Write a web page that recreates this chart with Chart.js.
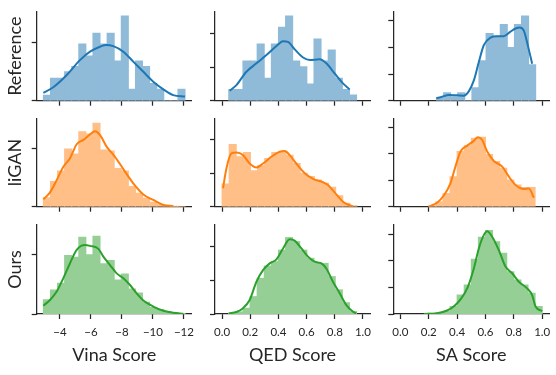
<!DOCTYPE html>
<html>
<head>
<meta charset="utf-8">
<script src="https://cdn.jsdelivr.net/npm/chart.js@4.4.1/dist/chart.umd.min.js"></script>
<style>
  html, body { margin: 0; padding: 0; background: #fff; }
  #grid { position: relative; width: 556px; height: 375px; }
  #grid canvas { position: absolute; left: 0; top: 0; }
</style>
</head>
<body>
<div id="grid"></div>
<script>
const rowNames = [`Reference`, `liGAN`, `Ours`]
const colTitles = [`Vina Score`, `QED Score`, `SA Score`]

const xTicks = [
  [-4, -6, -8, -10, -12],
  [0, 0.2, 0.4, 0.6, 0.8, 1.0],
  [0, 0.2, 0.4, 0.6, 0.8, 1.0],
]
const xRanges = [[-12.5, -2.5], [-0.05, 1.05], [-0.05, 1.05]]

// histogram first edge (row by row) and bin step per column
// (Vina bins run from the least negative score downwards)
const binStart = [
  [-2.93, 0.0475, 0.254],
  [-2.93, 0.0, 0.2],
  [-2.93, 0.0475, 0.2],
]
const binWidth = [-0.457, 0.0504, 0.05]

// density axes (labels are hidden in the figure, only the tick marks show)
const yMax = [
  [0.305, 5.29, 3.34],
  [0.303, 2.64, 3.33],
  [0.298, 2.62, 3.34],
]
const yTicks = [
  [[0, 0.2], [0, 2, 4], [0, 1, 2, 3]],
  [[0, 0.2], [0, 1, 2], [0, 1, 2, 3]],
  [[0, 0.2], [0, 1, 2], [0, 1, 2, 3]],
]

// bar heights
const refVina = [0.019, 0.077, 0.077, 0.099, 0.117, 0.194, 0.153, 0.231, 0.194, 0.231, 0.136, 0.290, 0.039, 0.136, 0.117, 0.059, 0.039, 0, 0, 0.039]
const refQed = [0.67, 0.67, 2.36, 2.36, 3.37, 1.33, 3.37, 4.36, 5.03, 2.36, 2.02, 0.99, 3.66, 2.36, 3.01, 1.33, 0.67, 0.34]
const refSa = [0.11, 0.30, 0.15, 0.30, 0, 0.49, 1.50, 2.52, 2.42, 2.86, 2.00, 2.86, 3.18, 1.35]
const liganVina = [0.031, 0.086, 0.122, 0.198, 0.181, 0.257, 0.249, 0.286, 0.194, 0.191, 0.131, 0.122, 0.069, 0.046, 0.029, 0.015, 0.008, 0.003, 0.001, 0]
const liganQed = [0.68, 1.86, 1.49, 1.62, 1.07, 1.22, 1.44, 1.62, 1.62, 1.54, 1.29, 1.00, 0.90, 0.80, 0.70, 0.58, 0.33, 0.10, 0.03]
const liganSa = [0.03, 0.19, 0.50, 1.13, 2.08, 2.30, 2.58, 2.62, 1.97, 1.70, 1.45, 1.01, 0.82, 0.72, 0.72]
const oursVina = [0.048, 0.080, 0.103, 0.196, 0.190, 0.257, 0.198, 0.260, 0.168, 0.179, 0.114, 0.134, 0.084, 0.070, 0.039, 0.022, 0.015, 0.008, 0.003, 0.001]
const oursQed = [0.02, 0.06, 0.17, 0.51, 1.05, 1.41, 1.54, 1.88, 2.25, 2.13, 1.88, 1.64, 1.51, 1.49, 1.10, 0.71, 0.33, 0.07]
const oursSa = [0.03, 0.04, 0.09, 0.28, 0.71, 1.09, 2.05, 2.88, 3.13, 2.71, 2.28, 1.59, 1.28, 1.09, 0.78, 0.28]

// kde curves as [x, density]
const refVinaKde = [[-2.93, 0.027], [-3.57, 0.046], [-4.44, 0.088], [-5.29, 0.139], [-5.94, 0.168], [-6.58, 0.185], [-6.97, 0.191], [-7.44, 0.187], [-8.09, 0.168], [-8.73, 0.134], [-9.38, 0.099], [-10.02, 0.065], [-10.67, 0.039], [-11.31, 0.019], [-12.07, 0.014]]
const refQedKde = [[0.054, 0.59], [0.102, 0.93], [0.173, 1.72], [0.244, 2.22], [0.315, 2.71], [0.386, 3.25], [0.433, 3.54], [0.468, 3.50], [0.516, 3.05], [0.575, 2.57], [0.622, 2.42], [0.693, 2.46], [0.740, 2.22], [0.799, 1.62], [0.858, 1.03], [0.906, 0.67]]
const refSaKde = [[0.254, 0.09], [0.294, 0.15], [0.341, 0.21], [0.400, 0.20], [0.447, 0.19], [0.482, 0.35], [0.518, 0.76], [0.553, 1.45], [0.588, 2.08], [0.635, 2.37], [0.682, 2.42], [0.729, 2.42], [0.776, 2.59], [0.812, 2.71], [0.842, 2.75], [0.871, 2.62], [0.901, 2.02], [0.929, 1.39]]
const liganVinaKde = [[-2.93, 0.025], [-3.36, 0.049], [-3.79, 0.091], [-4.22, 0.137], [-4.65, 0.166], [-5.08, 0.214], [-5.51, 0.229], [-5.94, 0.248], [-6.26, 0.259], [-6.58, 0.246], [-7.01, 0.206], [-7.55, 0.171], [-8.09, 0.129], [-8.73, 0.080], [-9.38, 0.042], [-10.02, 0.023], [-10.67, 0.006], [-11.31, 0.002]]
const liganQedKde = [[0.007, 0.55], [0.031, 1.14], [0.066, 1.59], [0.102, 1.62], [0.149, 1.54], [0.196, 1.29], [0.244, 1.17], [0.291, 1.29], [0.350, 1.49], [0.409, 1.64], [0.445, 1.66], [0.480, 1.54], [0.527, 1.29], [0.587, 1.00], [0.646, 0.83], [0.717, 0.73], [0.752, 0.65], [0.799, 0.43], [0.858, 0.15], [0.929, 0.0]]
const liganSaKde = [[0.200, 0.0], [0.259, 0.15], [0.306, 0.42], [0.353, 0.88], [0.388, 1.51], [0.424, 2.08], [0.471, 2.30], [0.518, 2.48], [0.546, 2.62], [0.576, 2.52], [0.612, 2.08], [0.659, 1.72], [0.718, 1.51], [0.765, 1.13], [0.812, 0.82], [0.871, 0.67], [0.906, 0.69], [0.941, 0.34]]
const oursVinaKde = [[-2.93, 0.028], [-3.36, 0.047], [-3.79, 0.075], [-4.22, 0.120], [-4.65, 0.170], [-5.08, 0.215], [-5.62, 0.231], [-5.94, 0.228], [-6.48, 0.218], [-6.80, 0.192], [-7.23, 0.164], [-7.66, 0.136], [-8.09, 0.120], [-8.52, 0.097], [-8.95, 0.069], [-9.38, 0.045], [-10.02, 0.025], [-10.67, 0.011], [-11.31, 0.004], [-11.96, 0.001]]
const oursQedKde = [[0.048, 0.02], [0.102, 0.06], [0.149, 0.17], [0.196, 0.41], [0.244, 0.95], [0.291, 1.29], [0.338, 1.49], [0.386, 1.61], [0.433, 1.93], [0.480, 2.20], [0.515, 2.16], [0.563, 1.93], [0.610, 1.69], [0.657, 1.54], [0.705, 1.49], [0.740, 1.34], [0.787, 0.95], [0.835, 0.61], [0.882, 0.26], [0.929, 0.07], [0.953, 0.02]]
const oursSaKde = [[0.165, 0.0], [0.259, 0.03], [0.329, 0.13], [0.376, 0.28], [0.424, 0.55], [0.471, 0.96], [0.518, 1.71], [0.553, 2.46], [0.588, 2.96], [0.612, 3.11], [0.647, 2.90], [0.694, 2.40], [0.741, 1.78], [0.788, 1.53], [0.835, 1.21], [0.894, 0.96], [0.929, 0.71], [0.953, 0.28], [1.000, 0.11]]

const hists = [
  [refVina, refQed, refSa],
  [liganVina, liganQed, liganSa],
  [oursVina, oursQed, oursSa],
]
const kdes = [
  [refVinaKde, refQedKde, refSaKde],
  [liganVinaKde, liganQedKde, liganSaKde],
  [oursVinaKde, oursQedKde, oursSaKde],
]

// panel frames (spine boxes) in page pixels
const W = 556, H = 375
const colL = [36.7, 215, 393.3]
const colR = [191.7, 370, 549.3]
const rowT = [11.7, 118.3, 225]
const rowB = [100.7, 206.7, 314]

const ink = `#262626`
const lineColors = [`#1f77b4`, `#ff7f0e`, `#2ca02c`]
// tab colours at half alpha, flattened onto white so bar seams don't show
const barColors = [`rgb(143,187,217)`, `rgb(255,191,134)`, `rgb(149,207,149)`]

Chart.defaults.font.family = `Lato`
Chart.defaults.color = ink

const tickLabel = (c) => (v) =>
  c === 0 ? (v < 0 ? `\u2212` : ``) + Math.abs(v) : Number(v).toFixed(1)

const grid = {
  display: true,
  drawOnChartArea: false,
  drawTicks: true,
  tickLength: 5,
  tickWidth: 1.25,
  tickColor: ink,
  offset: false,
}
const border = { display: true, color: ink, width: 1.25 }

const host = document.querySelector(`#grid`)

for (let r = 0; r < 3; r++) {
  for (let c = 0; c < 3; c++) {
    const canvas = document.createElement(`canvas`)
    canvas.width = W
    canvas.height = H
    host.append(canvas)

    const yW = c === 0 ? colL[0] : 5
    const xH = r === 2 ? H - rowB[2] : 5

    const bars = hists[r][c].map((y, i) => ({
      x: binStart[r][c] + (i + 0.5) * binWidth[c],
      y,
    }))
    const curve = kdes[r][c].map(([x, y]) => ({ x, y }))

    new Chart(canvas, {
      type: `bar`,
      data: {
        datasets: [
          {
            type: `line`,
            data: curve,
            borderColor: lineColors[r],
            borderWidth: 2,
            pointRadius: 0,
            fill: false,
            cubicInterpolationMode: `monotone`,
            order: 0,
          },
          {
            type: `bar`,
            data: bars,
            backgroundColor: barColors[r],
            borderWidth: 0,
            barPercentage: 1,
            categoryPercentage: 1,
            inflateAmount: 0.5,
            order: 1,
          },
        ],
      },
      options: {
        responsive: false,
        animation: false,
        events: [],
        layout: {
          autoPadding: false,
          padding: {
            left: colL[c] - yW,
            top: rowT[r],
            right: W - colR[c],
            bottom: H - rowB[r] - xH,
          },
        },
        plugins: { legend: { display: false }, tooltip: { enabled: false } },
        scales: {
          x: {
            type: `linear`,
            min: xRanges[c][0],
            max: xRanges[c][1],
            reverse: c === 0,
            offset: false,
            afterBuildTicks: (s) => { s.ticks = xTicks[c].map((value) => ({ value })) },
            afterFit: (s) => { s.height = xH; s.paddingLeft = 0; s.paddingRight = 0 },
            grid,
            border,
            ticks: {
              display: r === 2,
              autoSkip: false,
              maxRotation: 0,
              padding: 6,
              color: ink,
              font: { size: 11.5 },
              callback: tickLabel(c),
            },
            title: {
              display: r === 2,
              text: colTitles[c],
              color: ink,
              font: { size: 18 },
              padding: { top: 0, bottom: 9 },
            },
          },
          y: {
            type: `linear`,
            min: 0,
            max: yMax[r][c],
            afterBuildTicks: (s) => { s.ticks = yTicks[r][c].map((value) => ({ value })) },
            afterFit: (s) => { s.width = yW; s.paddingTop = 0; s.paddingBottom = 0 },
            grid,
            border,
            ticks: { display: false },
            title: {
              display: c === 0,
              text: rowNames[r],
              color: ink,
              font: { size: 18 },
              padding: { top: 4, bottom: 0 },
            },
          },
        },
      },
    })
  }
}
</script>
</body>
</html>
